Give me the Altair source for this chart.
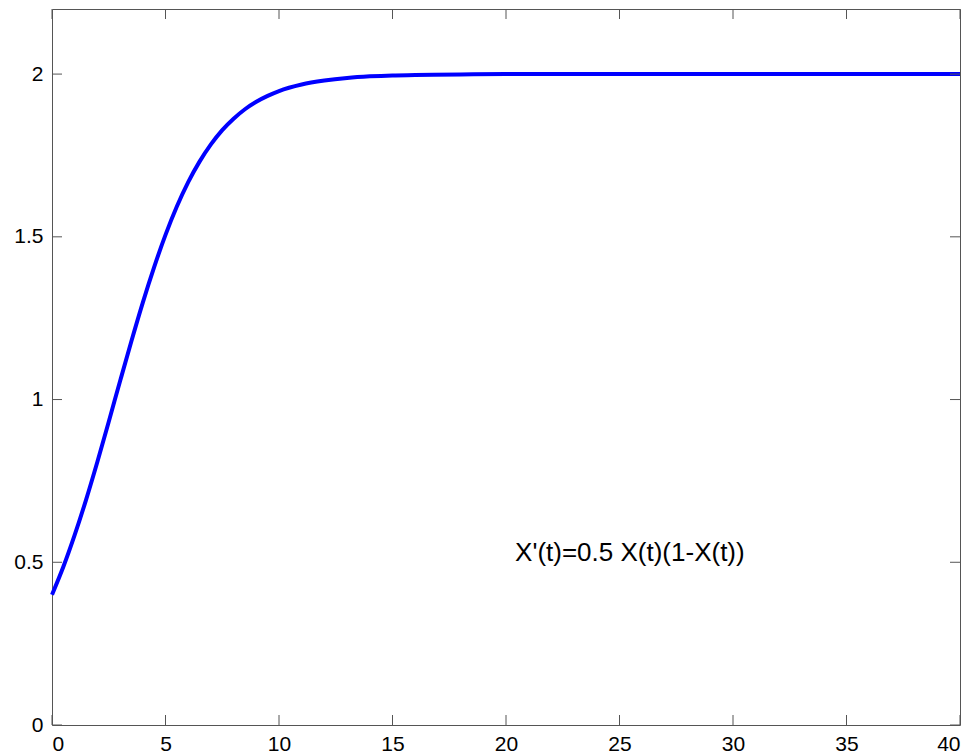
import altair as alt
import pandas as pd

# values
t_vals = [0, 0.5, 1, 1.5, 2, 2.5, 3, 3.5, 4, 4.5, 5, 5.5, 6, 6.5, 7, 7.5, 8, 8.5,
          9, 9.5, 10, 11, 12, 13, 14, 15, 16, 18, 20, 25, 30, 35, 40]
x_vals = [0.400, 0.486, 0.584, 0.692, 0.809, 0.932, 1.057, 1.180, 1.298, 1.407,
          1.506, 1.593, 1.668, 1.731, 1.784, 1.828, 1.863, 1.892, 1.915, 1.933,
          1.948, 1.968, 1.980, 1.988, 1.993, 1.996, 1.997, 1.999, 2.000, 2.000,
          2.000, 2.000, 2.000]

x_ticks = [0, 5, 10, 15, 20, 25, 30, 35, 40]
y_ticks = [0, 0.5, 1, 1.5, 2]
annotation = ["X'(t)=0.5 X(t)(1-X(t))"]
ann_x = [20.4]
ann_y = [0.53]

W, H = 908, 716
FONT = "Liberation Sans"
AX = "#555555"

df = pd.DataFrame({"t": t_vals, "x": x_vals})
xt = pd.DataFrame({"v": x_ticks})
yt = pd.DataFrame({"v": y_ticks})
ann = pd.DataFrame({"label": annotation, "t": ann_x, "x": ann_y})

xs = alt.Scale(domain=[0, 40], nice=False, zero=False)
ys = alt.Scale(domain=[0, 2.2], nice=False, zero=False)

line = alt.Chart(df).mark_line(color="#0000FF", strokeWidth=4, interpolate="monotone").encode(
    x=alt.X("t:Q", scale=xs, title=None,
            axis=alt.Axis(values=x_ticks, ticks=False, domain=False, grid=False,
                          labelFont=FONT, labelFontSize=21, labelColor="black",
                          labelPadding=8, format="d")),
    y=alt.Y("x:Q", scale=ys, title=None,
            axis=alt.Axis(values=y_ticks, ticks=False, domain=False, grid=False,
                          labelFont=FONT, labelFontSize=21, labelColor="black",
                          labelPadding=9, format="~g")),
)

tick_bottom = alt.Chart(xt).mark_rule(color=AX, strokeWidth=1).encode(
    x=alt.X("v:Q", scale=xs), y=alt.value(H - 10), y2=alt.value(H))
tick_top = alt.Chart(xt).mark_rule(color=AX, strokeWidth=1).encode(
    x=alt.X("v:Q", scale=xs), y=alt.value(0), y2=alt.value(10))
tick_left = alt.Chart(yt).mark_rule(color=AX, strokeWidth=1).encode(
    y=alt.Y("v:Q", scale=ys), x=alt.value(0), x2=alt.value(10))
tick_right = alt.Chart(yt).mark_rule(color=AX, strokeWidth=1).encode(
    y=alt.Y("v:Q", scale=ys), x=alt.value(W - 10), x2=alt.value(W))

text = alt.Chart(ann).mark_text(align="left", baseline="middle", font=FONT,
                                fontSize=26, color="black").encode(
    x=alt.X("t:Q", scale=xs), y=alt.Y("x:Q", scale=ys), text="label:N")

chart = alt.layer(line, tick_bottom, tick_top, tick_left, tick_right, text).properties(
    width=W, height=H,
    autosize=alt.AutoSizeParams(type="none"),
    padding={"left": 44, "top": 1, "right": 8, "bottom": 28},
    background="white",
).configure_view(stroke=AX, strokeWidth=1)

chart.save("out.html", embed_options={"renderer": "svg", "actions": False})
